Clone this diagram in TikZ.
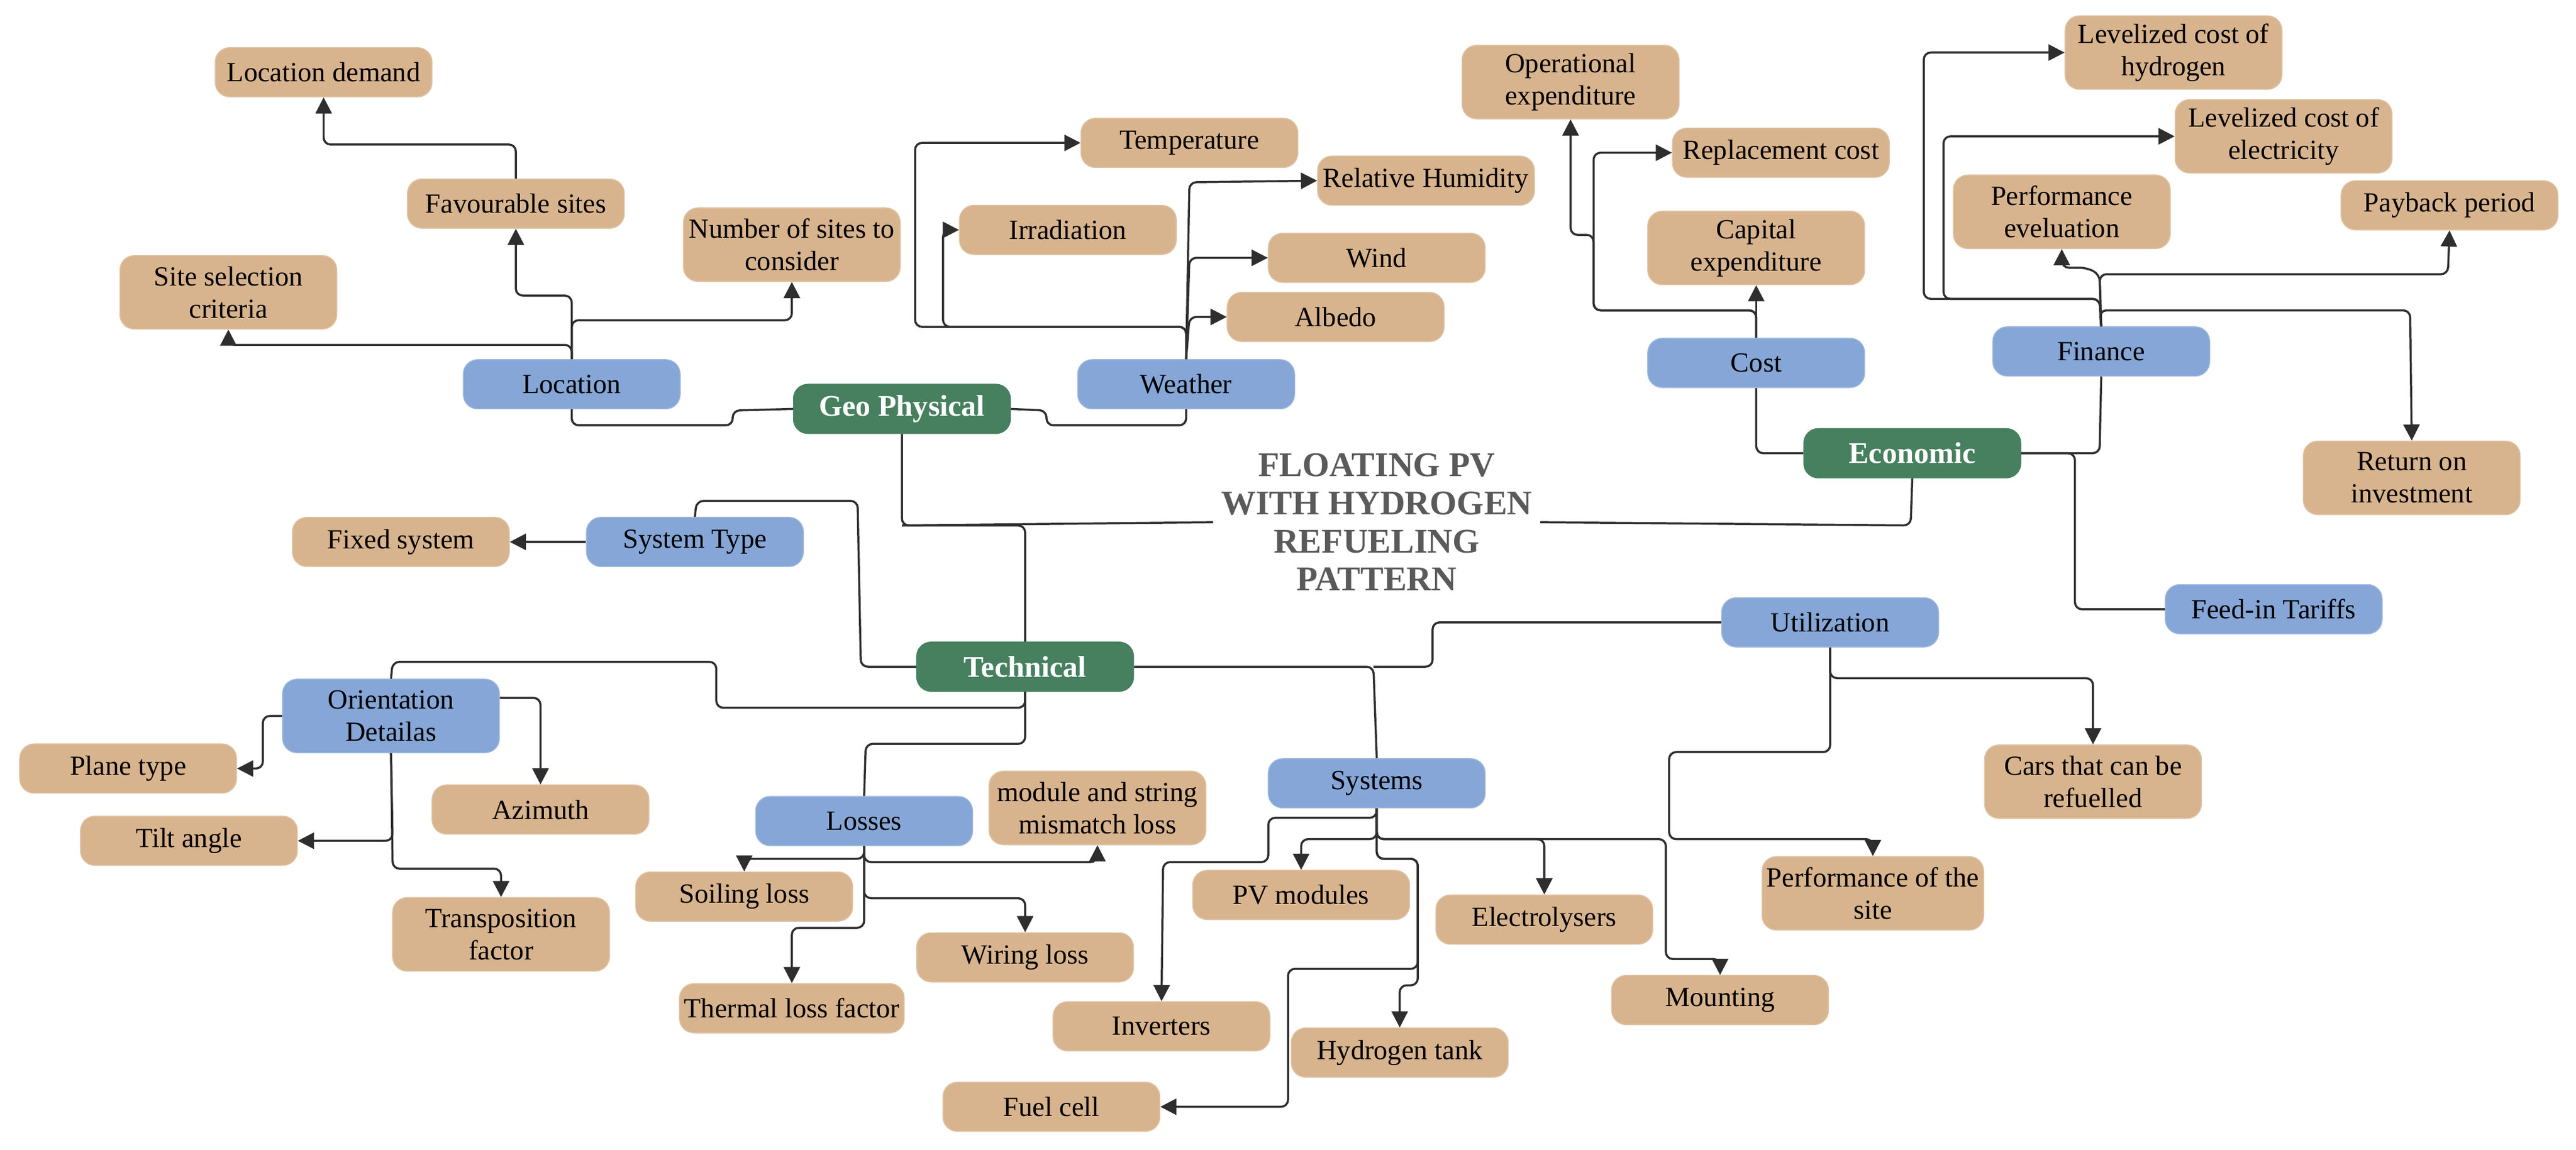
\documentclass[tikz,border=0pt]{standalone}
\usepackage{fontspec}
\setmainfont{Liberation Serif}
\usetikzlibrary{arrows.meta}
\definecolor{tanc}{HTML}{D8B48E}
\definecolor{bluec}{HTML}{85A6D6}
\definecolor{greenc}{HTML}{46805F}
\definecolor{linec}{HTML}{2E2E2E}
\definecolor{titlec}{HTML}{5A5A5A}
\begin{document}
\begin{tikzpicture}[x=0.025cm,y=-0.025cm,
  box/.style={rounded corners=0.22cm,minimum width=3.3cm,minimum height=0.75cm,align=center,inner sep=2pt,font=\fontsize{12}{14}\selectfont},
  tan/.style={box,fill=tanc,draw=tanc!80!white},
  blue/.style={box,fill=bluec,draw=bluec!80!white},
  green/.style={box,fill=greenc,draw=greenc,text=white,font=\bfseries\fontsize{13}{15}\selectfont},
  two/.style={minimum height=1.12cm},
  conn/.style={draw=linec,line width=0.9pt,rounded corners=3pt},
  arr/.style={conn,-{Triangle[length=7pt,width=7pt]}}]
\useasboundingbox (0,0) rectangle (1568,700);
% nodes
\node[tan] (ldem) at (197,44) {Location demand};
\node[tan] (fav) at (314,124) {Favourable sites};
\node[tan,two] (num) at (482,149) {Number of sites to\\consider};
\node[tan,two] (site) at (139,178) {Site selection\\criteria};
\node[blue] (loc) at (348,234) {Location};
\node[green] (geo) at (549,249) {Geo Physical};
\node[blue] (wea) at (722,234) {Weather};
\node[tan] (temp) at (724,87) {Temperature};
\node[tan] (rh) at (868,110) {Relative Humidity};
\node[tan] (irr) at (650,140) {Irradiation};
\node[tan] (wind) at (838,157) {Wind};
\node[tan] (alb) at (813,193) {Albedo};
\node[tan,two] (opex) at (956,50) {Operational\\expenditure};
\node[tan] (rep) at (1084,93) {Replacement cost};
\node[tan,two] (capex) at (1069,151) {Capital\\expenditure};
\node[blue] (cost) at (1069,221) {Cost};
\node[tan,two] (lch) at (1323,32) {Levelized cost of\\hydrogen};
\node[tan,two] (lce) at (1390,83) {Levelized cost of\\electricity};
\node[tan,two] (perf) at (1255,129) {Performance\\eveluation};
\node[tan] (pay) at (1491,125) {Payback period};
\node[blue] (fin) at (1279,214) {Finance};
\node[green] (eco) at (1164,276) {Economic};
\node[tan,two] (roi) at (1468,291) {Return on\\investment};
\node[blue] (feed) at (1384,371) {Feed-in Tariffs};
\node[align=center,text=titlec,font=\bfseries\fontsize{15}{16.5}\selectfont] (title) at (838,318) {FLOATING PV\\WITH HYDROGEN\\REFUELING\\PATTERN};
\node[tan] (fixed) at (244,330) {Fixed system};
\node[blue] (systype) at (423,330) {System Type};
\node[green] (tech) at (624,406) {Technical};
\node[blue] (util) at (1114,379) {Utilization};
\node[blue,two] (orient) at (238,436) {Orientation\\Detailas};
\node[tan] (plane) at (78,468) {Plane type};
\node[tan] (azi) at (329,493) {Azimuth};
\node[tan] (tilt) at (115,512) {Tilt angle};
\node[tan,two] (trans) at (305,569) {Transposition\\factor};
\node[blue] (loss) at (526,500) {Losses};
\node[tan,two] (mism) at (668,492) {module and string\\mismatch loss};
\node[tan] (soil) at (453,546) {Soiling loss};
\node[tan] (wire) at (624,583) {Wiring loss};
\node[tan] (therm) at (482,614) {Thermal loss factor};
\node[blue] (sys) at (838,477) {Systems};
\node[tan] (pv) at (792,545) {PV modules};
\node[tan] (elec) at (940,560) {Electrolysers};
\node[tan] (mount) at (1047,609) {Mounting};
\node[tan] (inv) at (707,625) {Inverters};
\node[tan] (htank) at (852,641) {Hydrogen tank};
\node[tan] (fuel) at (640,674) {Fuel cell};
\node[tan,two] (cars) at (1274,476) {Cars that can be\\refuelled};
\node[tan,two] (psite) at (1140,544) {Performance of the\\site};
% Geo physical
\draw[conn] (loc.south) -- (348,259) -- (446,259) -- (446,250) -- (geo.west);
\draw[conn] (geo.east) -- (637,250) -- (637,259) -- (722,259) -- (wea.south);
\draw[arr] (loc.north) -- (348,195) -- (482,195) -- (num.south);
\draw[arr] (loc.north) -- (348,180) -- (314,180) -- (fav.south);
\draw[arr] (loc.north) -- (348,210) -- (139,210) -- (site.south);
\draw[arr] (fav.north) -- (314,88) -- (197,88) -- (ldem.south);
\draw[arr] (wea.north) -- (722,199) -- (557,199) -- (557,87) -- (temp.west);
\draw[arr] (wea.north) -- (722,199) -- (574,199) -- (574,140) -- (irr.west);
\draw[arr] (wea.north) -- (724,111) -- (rh.west);
\draw[arr] (wea.north) -- (724,157) -- (wind.west);
\draw[arr] (wea.north) -- (724,193) -- (alb.west);
\draw[conn] (geo.south) -- (549,320) -- (title.west);
\draw[conn] (tech.north) -- (624,320) -- (549,320);
% Economic
\draw[conn] (eco.south) -- (1163,320) -- (title.east);
\draw[conn] (cost.south) -- (1069,276) -- (eco.west);
\draw[conn] (eco.east) -- (1278,276) -- (fin.south);
\draw[conn] (eco.east) -- (1263,276) -- (1263,371) -- (feed.west);
\draw[arr] (cost.north) -- (capex.south);
\draw[arr] (cost.north) -- (1069,189) -- (970,189) -- (970,93) -- (rep.west);
\draw[arr] (cost.north) -- (1069,189) -- (970,189) -- (970,143) -- (956,143) -- (opex.south);
\draw[arr] (fin.north) -- (1278,189) -- (1467,189) -- (roi.north);
\draw[arr] (fin.north) -- (1278,182) -- (1171,182) -- (1171,32) -- (lch.west);
\draw[arr] (fin.north) -- (1278,182) -- (1183,182) -- (1183,83) -- (lce.west);
\draw[arr] (fin.north) -- (1278,167) -- (1490,167) -- (pay.south);
\draw[arr] (fin.north) -- (1278,167) -- (1270,163) -- (1255,163) -- (perf.south);
% Technical
\draw[conn] (tech.west) -- (524,406) -- (522,305) -- (424,305) -- (systype.north);
\draw[arr] (systype.west) -- (fixed.east);
\draw[conn] (tech.south) -- (624,431) -- (436,431) -- (436,403) -- (239,403) -- (orient.north);
\draw[arr] (orient.east) ++(0,-11) -- (329,425) -- (azi.north);
\draw[arr] (orient.west) -- (160,436) -- (160,468) -- (plane.east);
\draw[arr] (orient.south) -- (239,512) -- (tilt.east);
\draw[arr] (orient.south) -- (239,529) -- (305,529) -- (trans.north);
\draw[conn] (tech.south) -- (624,453) -- (527,453) -- (loss.north);
\draw[arr] (loss.south) -- (526,523) -- (453,523) -- (soil.north);
\draw[arr] (loss.south) -- (526,525) -- (668,525) -- (mism.south);
\draw[arr] (loss.south) -- (526,547) -- (624,547) -- (wire.north);
\draw[arr] (loss.south) -- (526,565) -- (482,565) -- (therm.north);
\draw[conn] (tech.east) -- (836,406) -- (sys.north);
\draw[conn] (util.west) -- (872,379) -- (872,406) -- (836,406);
\draw[arr] (sys.south) -- (838,498) -- (772,498) -- (772,525) -- (708,525) -- (inv.north);
\draw[arr] (sys.south) -- (838,511) -- (792,511) -- (pv.north);
\draw[arr] (sys.south) -- (838,511) -- (940,511) -- (elec.north);
\draw[arr] (sys.south) -- (838,511) -- (1014,511) -- (1014,584) -- (1047,584) -- (mount.north);
\draw[arr] (sys.south) -- (838,523) -- (863,523) -- (863,600) -- (852,600) -- (htank.north);
\draw[arr] (sys.south) -- (838,523) -- (863,523) -- (863,590) -- (784,590) -- (784,674) -- (fuel.east);
\draw[arr] (util.south) -- (1114,413) -- (1274,413) -- (cars.north);
\draw[arr] (util.south) -- (1114,458) -- (1016,458) -- (1016,511) -- (1140,511) -- (psite.north);
\end{tikzpicture}
\end{document}
